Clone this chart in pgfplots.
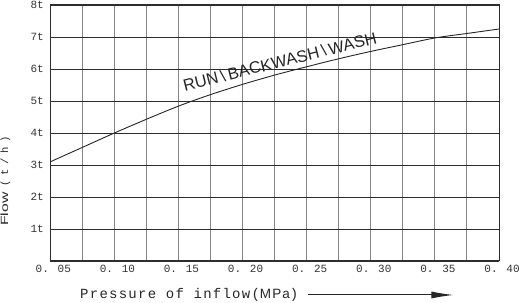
\documentclass[border=0pt]{standalone}
\usepackage{pgfplots}
\pgfplotsset{compat=1.18}
\usepackage{fontspec}
\setmainfont{Liberation Sans}
\newfontfamily\monofont{Liberation Mono}
\newfontfamily\spmono[LetterSpace=9]{Liberation Mono}
\newfontfamily\ylmono[LetterSpace=45]{Liberation Mono}
\newfontfamily\ylsans[FakeStretch=1.5]{Liberation Sans}
\newfontfamily\spsans[LetterSpace=8]{Liberation Sans}
\usetikzlibrary{arrows.meta}
\definecolor{vgrid}{RGB}{135,135,135}
\definecolor{hgrid}{RGB}{45,45,45}
\begin{document}
\begin{tikzpicture}
\begin{axis}[
  scale only axis,
  width=448.7pt, height=256pt,
  xmin=0.05, xmax=0.40, ymin=0, ymax=8,
  xtick={0.05,0.10,0.15,0.20,0.25,0.30,0.35,0.40},
  xticklabels={0. 05,0. 10,0. 15,0. 20,0. 25,0. 30,0. 35,0. 40},
  minor xtick={0.075,0.125,0.175,0.225,0.275,0.325,0.375},
  ytick={0,1,2,3,4,5,6,7,8},
  yticklabels={,1t,2t,3t,4t,5t,6t,7t,8t},
  major tick length=0pt, minor tick length=0pt,
  xmajorgrids, xminorgrids, ymajorgrids,
  major x grid style={vgrid, line width=1pt},
  minor x grid style={vgrid, line width=1pt},
  major y grid style={hgrid, line width=0.9pt},
  axis line style={hgrid, line width=1pt},
  xticklabel style={font=\monofont\fontsize{11}{11}\selectfont, text=black!80, xshift=3pt, yshift=-1pt, inner xsep=0pt},
  yticklabel style={font=\monofont\fontsize{11}{11}\selectfont, text=black!80, xshift=-3pt},
  clip=false,
]
\addplot[smooth, black!85, line width=0.9pt] coordinates {
(0.05,3.10) (0.075,3.55) (0.10,4.00) (0.125,4.43) (0.15,4.84) (0.175,5.20)
(0.20,5.52) (0.225,5.81) (0.25,6.07) (0.275,6.32) (0.30,6.55) (0.325,6.76)
(0.35,6.97) (0.375,7.11) (0.40,7.25)};
\node[rotate=14, font=\fontsize{16.5}{16.5}\selectfont, text=black!85] at (axis cs:0.229,6.23) {RUN\,\textbackslash\,BACKWASH\,\textbackslash\,WASH};
\node[rotate=90, anchor=center, text=black!85, inner sep=0pt] at (rel axis cs:-0.0998,0.3125) {{\ylsans\fontsize{10.5}{10.5}\selectfont Flow}\hspace{6pt}{\ylmono\fontsize{10.5}{10.5}\selectfont(t/h)}};
\node[anchor=west, text=black!85, inner sep=0pt] at (rel axis cs:0.0662,-0.1328) {{\spmono\fontsize{14}{14}\selectfont Pressure of inflow(}{\spsans\fontsize{13.5}{13.5}\selectfont MPa}{\spmono\fontsize{14}{14}\selectfont)}};
\draw[black!85, line width=1pt, -{Latex[length=22pt,width=7pt]}] (rel axis cs:0.5743,-0.1328) -- (rel axis cs:0.8985,-0.1328);
\end{axis}
\pgfresetboundingbox
\path (current axis.south west) ++(-50.3pt,-42pt) coordinate (bbA);
\path (current axis.north east) ++(20pt,5pt) coordinate (bbB);
\path[use as bounding box] (bbA) rectangle (bbB);
\end{tikzpicture}
\end{document}
